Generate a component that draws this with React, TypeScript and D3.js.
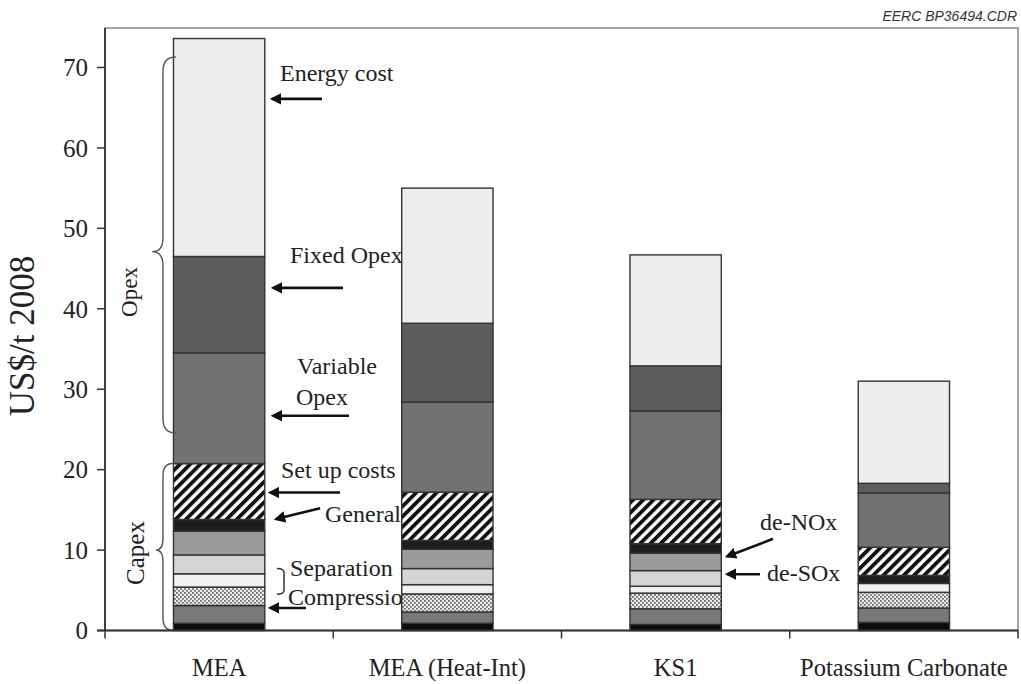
import React from "react";
import * as d3 from "d3";

// cost bars, US$/t 2008, stacked from the bottom up
const categories = ["MEA", "MEA (Heat-Int)", "KS1", "Potassium Carbonate"];
const components = [
  "Base",
  "Compression",
  "Separation",
  "Separation 2",
  "de-SOx",
  "de-NOx",
  "General",
  "Set up costs",
  "Variable Opex",
  "Fixed Opex",
  "Energy cost",
];
const meaValues = [0.9, 2.2, 2.3, 1.65, 2.35, 2.95, 1.45, 6.95, 13.75, 12.0, 27.1];
const heatIntValues = [0.9, 1.4, 2.25, 1.15, 2.0, 2.4, 1.1, 6.0, 11.2, 9.8, 16.8];
const ks1Values = [0.75, 1.95, 1.95, 0.85, 1.95, 2.15, 1.2, 5.5, 11.0, 5.6, 13.8];
const potassiumValues = [1.0, 1.8, 1.95, 1.1, 0, 0, 1.0, 3.5, 6.75, 1.2, 12.7];
const yTicks = [0, 10, 20, 30, 40, 50, 60, 70];

const seriesByCategory = [meaValues, heatIntValues, ks1Values, potassiumValues];

const fills: Record<string, string> = {
  "Base": "#0b0b0b",
  "Compression": "#787878",
  "Separation": "url(#dots)",
  "Separation 2": "#f1f1f1",
  "de-SOx": "#d5d5d5",
  "de-NOx": "#9b9b9b",
  "General": "#1d1d1d",
  "Set up costs": "url(#hatch)",
  "Variable Opex": "#727272",
  "Fixed Opex": "#5d5d5d",
  "Energy cost": "#ededed",
};

const W = 1021;
const H = 684;
const left = 105;
const right = 1018;
const top = 28;
const bottom = 630.5;
const serif = "'Liberation Serif', 'Times New Roman', serif";

function brace(xEnd: number, xMid: number, xTip: number, yTop: number, yTip: number, yBot: number, r: number) {
  return `M${xEnd},${yTop} Q${xMid},${yTop} ${xMid},${yTop + r} L${xMid},${yTip - r} ` +
    `Q${xMid},${yTip} ${xTip},${yTip} Q${xMid},${yTip} ${xMid},${yTip + r} ` +
    `L${xMid},${yBot - r} Q${xMid},${yBot} ${xEnd},${yBot}`;
}

export default function App() {
  const x = d3.scaleBand().domain(categories).range([left, right]).paddingInner(0.6).paddingOuter(0.3);
  const y = d3.scaleLinear().domain([0, 75]).range([bottom, bottom - 75 * 8.043]);

  const table = categories.map((c, i) => {
    const row: any = { category: c };
    components.forEach((k, j) => (row[k] = seriesByCategory[i][j]));
    return row;
  });
  const stacked = d3.stack().keys(components)(table);

  const step = x.step();
  const boundaries = categories.map((c) => (x(c) as number) - (step * 0.3)).concat([right]);

  const arrows = [
    { x1: 322, y1: y(66.1), x2: 272, y2: y(66.1) },
    { x1: 343, y1: y(42.6), x2: 273, y2: y(42.6) },
    { x1: 349, y1: y(26.7), x2: 273, y2: y(26.7) },
    { x1: 340, y1: y(17.15), x2: 270, y2: y(17.15) },
    { x1: 320, y1: y(15.2), x2: 276, y2: y(13.85) },
    { x1: 306, y1: y(2.8), x2: 270, y2: y(2.8) },
    { x1: 773, y1: y(11.4), x2: 727, y2: y(9.2) },
    { x1: 760, y1: y(7.0), x2: 727, y2: y(7.0) },
  ];

  const labels = [
    { text: "Energy cost", x: 280, y: 81 },
    { text: "Fixed Opex", x: 290, y: 263 },
    { text: "Variable", x: 297, y: 374 },
    { text: "Opex", x: 296, y: 405 },
    { text: "Set up costs", x: 281, y: 478 },
    { text: "General", x: 325, y: 522 },
    { text: "Separation", x: 290, y: 576 },
    { text: "Compression", x: 288, y: 605 },
    { text: "de-NOx", x: 760, y: 530 },
    { text: "de-SOx", x: 767, y: 581 },
  ];

  return (
    <svg width={W} height={H} style={{ position: "absolute", left: 0, top: 0, background: "#fff" }}>
      <defs>
        <pattern id="hatch" patternUnits="userSpaceOnUse" width={7.2} height={7.2} patternTransform="rotate(45)">
          <rect width={7.2} height={7.2} fill="#fff" />
          <rect width={3.8} height={7.2} fill="#111" />
        </pattern>
        <pattern id="dots" patternUnits="userSpaceOnUse" width={4} height={4}>
          <rect width={4} height={4} fill="#ececec" />
          <rect x={0} y={0} width={1.8} height={1.8} fill="#6e6e6e" />
          <rect x={2} y={2} width={1.8} height={1.8} fill="#6e6e6e" />
        </pattern>
        <marker id="arr" viewBox="0 0 10 10" refX={8} refY={5} markerWidth={4.4} markerHeight={4.4} orient="auto">
          <path d="M0,0 L10,5 L0,10 z" fill="#111" />
        </marker>
      </defs>

      <text x={1017} y={21} textAnchor="end" fontFamily="'Liberation Sans', Arial, sans-serif" fontStyle="italic" fontSize={14} fill="#333">
        EERC BP36494.CDR
      </text>

      {/* plot frame */}
      <rect x={left} y={top} width={right - left} height={bottom - top} fill="none" stroke="#888" strokeWidth={1.5} />

      {/* annotations sit under the bars */}
      {labels.map((l, i) => (
        <text key={i} x={l.x} y={l.y} fontFamily={serif} fontSize={24} fill="#222">{l.text}</text>
      ))}
      {arrows.map((a, i) => (
        <line key={i} x1={a.x1} y1={a.y1} x2={a.x2} y2={a.y2} stroke="#111" strokeWidth={2.6} markerEnd="url(#arr)" />
      ))}
      <path d={`M277,${y(7.7)} Q284,${y(7.7)} 284,${y(7.2)} L284,${y(5.0)} Q284,${y(4.5)} 277,${y(4.5)}`} fill="none" stroke="#333" strokeWidth={1.5} />

      {stacked.map((s) => (
        <g key={s.key}>
          {s.map((d, i) =>
            d[1] - d[0] > 0 ? (
              <rect
                key={i}
                x={x(categories[i])}
                y={y(d[1])}
                width={x.bandwidth()}
                height={y(d[0]) - y(d[1])}
                fill={fills[s.key]}
                stroke="#333"
                strokeWidth={1.4}
              />
            ) : null
          )}
        </g>
      ))}

      {/* braces */}
      <path d={brace(176, 163, 152, y(71.3), y(47.1), y(24.55), 14)} fill="none" stroke="#555" strokeWidth={1.4} />
      <path d={brace(174, 163, 156, y(20.8), y(10.0), y(0), 12)} fill="none" stroke="#555" strokeWidth={1.4} />
      <text transform={`translate(137,292) rotate(-90)`} textAnchor="middle" fontFamily={serif} fontSize={23} fill="#222">Opex</text>
      <text transform={`translate(144,553) rotate(-90)`} textAnchor="middle" fontFamily={serif} fontSize={25} fill="#222">Capex</text>

      {/* y axis */}
      <line x1={left} y1={top} x2={left} y2={bottom} stroke="#333" strokeWidth={1.8} />
      {yTicks.map((t) => (
        <g key={t}>
          <line x1={left - 8} x2={left} y1={y(t)} y2={y(t)} stroke="#333" strokeWidth={1.5} />
          <text x={left - 17} y={y(t)} dy="0.35em" textAnchor="end" fontFamily={serif} fontSize={25} fill="#222">{t}</text>
        </g>
      ))}
      <text transform={`translate(34,336) rotate(-90)`} textAnchor="middle" fontFamily={serif} fontSize={35} fill="#222">US$/t 2008</text>

      {/* x axis */}
      <line x1={left - 8} y1={bottom} x2={right} y2={bottom} stroke="#333" strokeWidth={1.8} />
      {boundaries.map((b, i) => (
        <line key={i} x1={b} x2={b} y1={bottom} y2={bottom + 8} stroke="#333" strokeWidth={1.5} />
      ))}
      {categories.map((c) => (
        <text key={c} x={(x(c) as number) + x.bandwidth() / 2} y={676} textAnchor="middle" fontFamily={serif} fontSize={24.5} fill="#222">{c}</text>
      ))}
    </svg>
  );
}
